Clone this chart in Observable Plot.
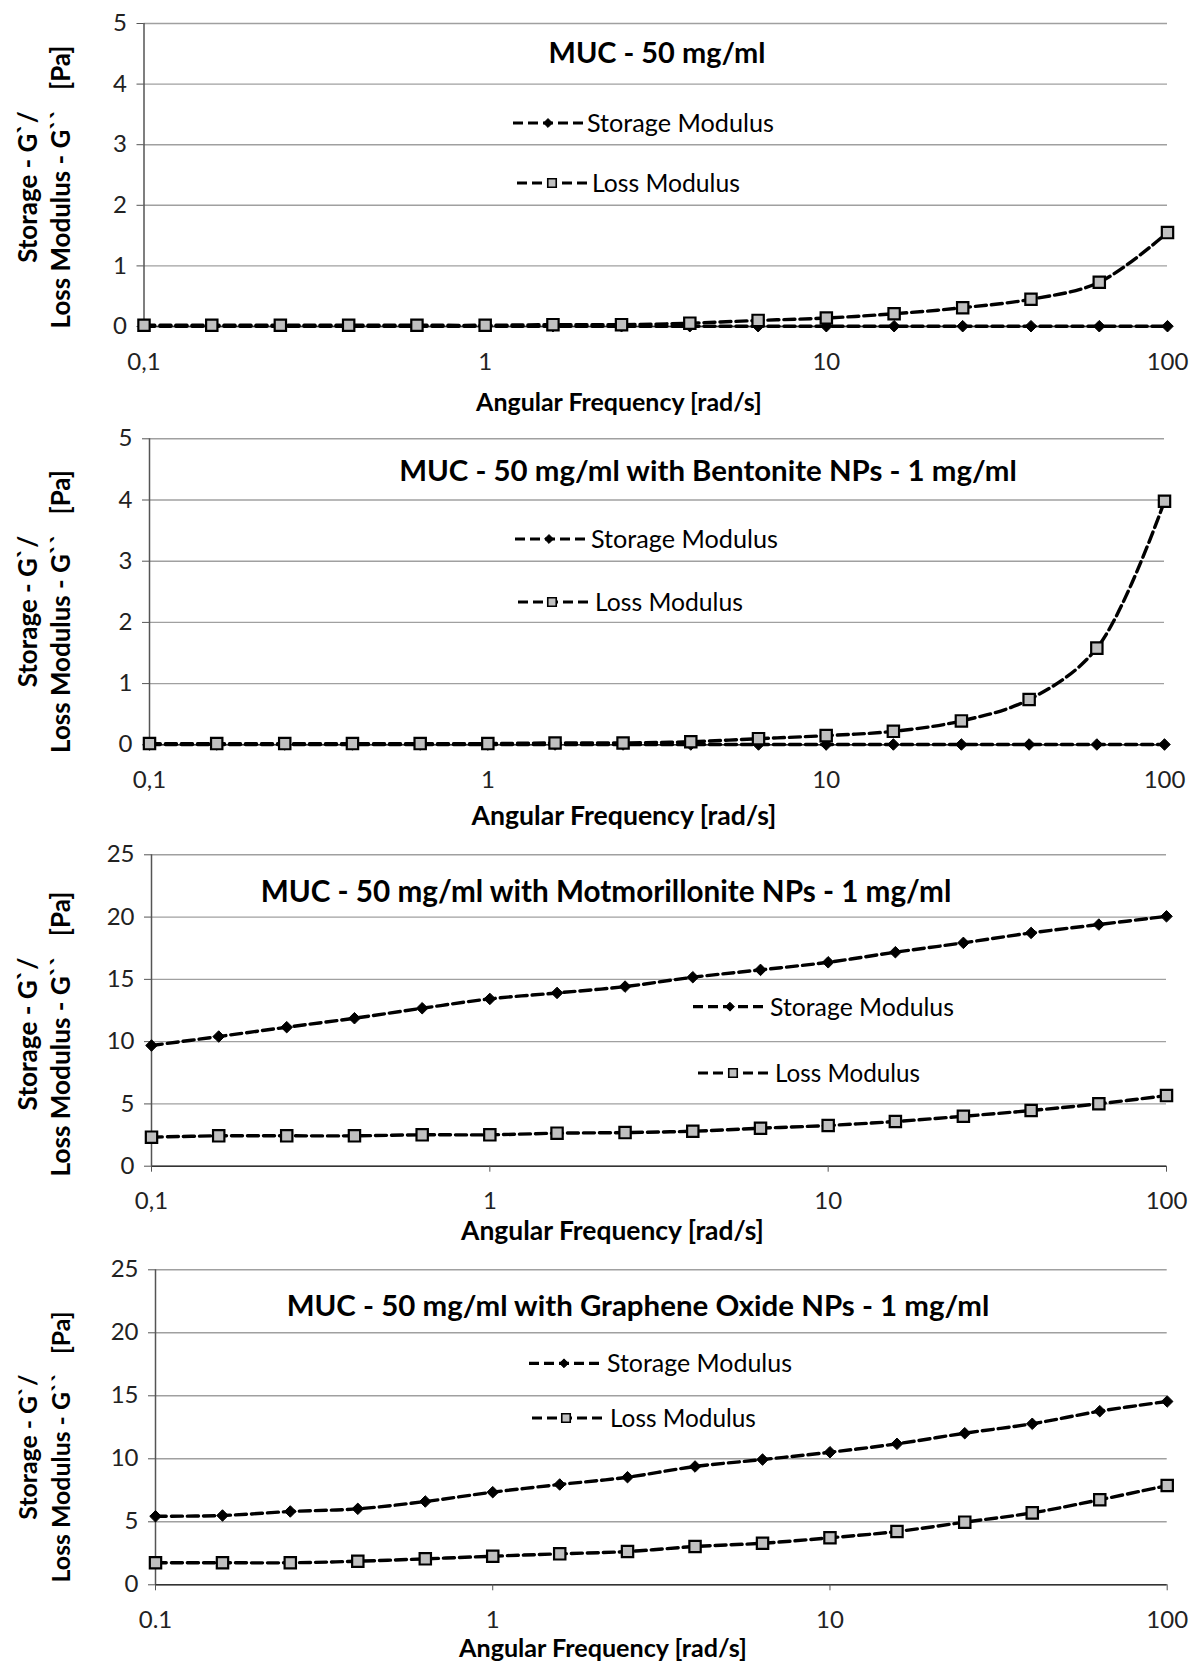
<!DOCTYPE html>
<html>
<head>
<meta charset="utf-8">
<script src="https://cdn.jsdelivr.net/npm/d3@7"></script>
<script src="https://cdn.jsdelivr.net/npm/@observablehq/plot@0.6"></script>
<style>
  html, body { margin: 0; padding: 0; background: #fff; }
  #chart { width: 1190px; }
  #chart svg { display: block; }
</style>
</head>
<body>
<div id="chart"></div>
<script>
// ---------- data ----------
const freq = [0.1, 0.158, 0.251, 0.398, 0.631, 1, 1.58, 2.51, 3.98, 6.31, 10, 15.8, 25.1, 39.8, 63.1, 100];

const mucStorage = [0.005, 0.005, 0.005, 0.005, 0.005, 0.005, 0.005, 0.005, 0.005, 0.005, 0.005, 0.005, 0.005, 0.005, 0.005, 0.005];
const mucLoss    = [0.02, 0.02, 0.02, 0.02, 0.02, 0.02, 0.03, 0.03, 0.055, 0.10, 0.14, 0.21, 0.31, 0.45, 0.73, 1.55];

const bentStorage = [0.005, 0.005, 0.005, 0.005, 0.005, 0.005, 0.005, 0.005, 0.005, 0.005, 0.005, 0.005, 0.005, 0.005, 0.005, 0.005];
const bentLoss    = [0.02, 0.02, 0.02, 0.02, 0.02, 0.02, 0.03, 0.03, 0.05, 0.10, 0.15, 0.22, 0.39, 0.74, 1.58, 3.98];

const montStorage = [9.69, 10.41, 11.16, 11.88, 12.68, 13.43, 13.91, 14.42, 15.17, 15.76, 16.37, 17.18, 17.93, 18.73, 19.40, 20.06];
const montLoss    = [2.33, 2.44, 2.44, 2.44, 2.52, 2.52, 2.65, 2.70, 2.81, 3.05, 3.27, 3.59, 4.01, 4.47, 5.01, 5.67];

const goStorage = [5.44, 5.50, 5.82, 6.03, 6.61, 7.35, 7.96, 8.54, 9.39, 9.94, 10.52, 11.19, 12.03, 12.78, 13.78, 14.55];
const goLoss    = [1.75, 1.75, 1.75, 1.87, 2.06, 2.27, 2.46, 2.64, 3.04, 3.30, 3.73, 4.23, 4.97, 5.71, 6.75, 7.88];

const panelTitles = [
  "MUC - 50 mg/ml",
  "MUC - 50 mg/ml with Bentonite NPs - 1 mg/ml",
  "MUC - 50 mg/ml with Motmorillonite NPs - 1 mg/ml",
  "MUC - 50 mg/ml with Graphene Oxide NPs - 1 mg/ml"
];
const seriesNames = ["Storage Modulus", "Loss Modulus"];
const xTickValues = [0.1, 1, 10, 100];
const xTickLabelsComma = ["0,1", "1", "10", "100"];
const xTickLabelsDot = ["0.1", "1", "10", "100"];
const yTicksSmall = [0, 1, 2, 3, 4, 5];
const yTicksLarge = [0, 5, 10, 15, 20, 25];
const xTitle = "Angular Frequency [rad/s]";
const yTitle1 = "Storage - G`/";
const yTitle2 = "Loss Modulus - G``   [Pa]";

// ---------- layout (pixels) ----------
const FONT = "Lato, 'Open Sans', 'Liberation Sans', sans-serif";
const panels = [
  { storage: mucStorage, loss: mucLoss, title: 0, xLabels: xTickLabelsComma, yTicks: yTicksSmall,
    height: 420, mt: 23, mb: 94, ml: 143.5, mr: 23,
    titlePos: [657, 53, 217], xTitlePos: [619, 402, 286], yTitleCy: 187, yTitleW: 283,
    legS: [513, 583, 548, 123, 587, 187], legL: [517, 587, 552, 183, 592, 148] },
  { storage: bentStorage, loss: bentLoss, title: 1, xLabels: xTickLabelsComma, yTicks: yTicksSmall,
    height: 415, mt: 18.3, mb: 90.7, ml: 149, mr: 26,
    titlePos: [708, 50, 618], xTitlePos: [624, 395, 305], yTitleCy: 191.5, yTitleW: 283,
    legS: [515, 586, 549, 119, 591, 187], legL: [518, 589, 552, 182, 595, 148] },
  { storage: montStorage, loss: montLoss, title: 2, xLabels: xTickLabelsComma, yTicks: yTicksLarge,
    height: 415, mt: 19.3, mb: 84.3, ml: 151, mr: 24,
    titlePos: [606, 56.7, 691], xTitlePos: [612.5, 395, 303], yTitleCy: 199, yTitleW: 285,
    legS: [693, 766, 730, 171.7, 770, 184], legL: [698, 771, 733, 238, 775, 145] },
  { storage: goStorage, loss: goLoss, title: 3, xLabels: xTickLabelsDot, yTicks: yTicksLarge,
    height: 411, mt: 19.3, mb: 76.7, ml: 155, mr: 23.3,
    titlePos: [638, 55, 703], xTitlePos: [603, 398, 288], yTitleCy: 197, yTitleW: 271,
    legS: [529, 603, 564, 113.3, 607, 185], legL: [532, 606, 566, 168, 610, 146] }
];

function fitText(sel, target) {
  const node = sel.node();
  const w = node.getComputedTextLength();
  const fs = parseFloat(sel.style("font-size"));
  if (w > 0) sel.style("font-size", (fs * target / w) + "px");
  return sel;
}

const root = document.getElementById("chart");

function makePanel(p) {
  const storage = freq.map((f, i) => ({ f, v: p.storage[i] }));
  const loss = freq.map((f, i) => ({ f, v: p.loss[i] }));
  const labelOf = new Map(xTickValues.map((v, i) => [v, p.xLabels[i]]));
  const yMax = p.yTicks[p.yTicks.length - 1];

  const svg = Plot.plot({
    width: 1190,
    height: p.height,
    marginTop: p.mt, marginBottom: p.mb, marginLeft: p.ml, marginRight: p.mr,
    style: { fontFamily: FONT, fontSize: "24px", color: "#000", background: "#fff", overflow: "visible" },
    x: { type: "log", domain: [0.1, 100] },
    y: { domain: [0, yMax] },
    marks: [
      Plot.gridY(p.yTicks, { stroke: "#a0a0a0", strokeOpacity: 1, strokeWidth: 1.4 }),
      Plot.ruleX([0.1], { stroke: "#555", strokeWidth: 1.5 }),
      Plot.ruleY([0], { stroke: "#333", strokeWidth: 1.5 }),
      Plot.axisX(xTickValues, { tickSize: 6, tickPadding: 20, tickFormat: d => labelOf.get(d), label: null, stroke: "#555", fill: "#222" }),
      Plot.axisY(p.yTicks, { tickSize: 7, tickPadding: 10, tickFormat: d => String(d), label: null, stroke: "#555", fill: "#222" }),
      Plot.line(loss, { x: "f", y: "v", stroke: "#000", strokeWidth: 3.4, strokeDasharray: "11,5", curve: "catmull-rom" }),
      Plot.line(storage, { x: "f", y: "v", stroke: "#000", strokeWidth: 3.4, strokeDasharray: "11,5", curve: "catmull-rom" }),
      Plot.dot(storage, { x: "f", y: "v", symbol: "diamond2", r: 5.2, fill: "#000", stroke: "#000", strokeWidth: 1 }),
      Plot.dot(loss, { x: "f", y: "v", symbol: "square", r: 6.4, fill: "#c0c0c0", stroke: "#000", strokeWidth: 2.2 })
    ]
  });
  root.appendChild(svg);

  const g = d3.select(svg);
  const txt = (x, y, s, weight, size, anchor = "middle") =>
    g.append("text").attr("x", x).attr("y", y).attr("dy", "0.36em")
      .attr("text-anchor", anchor)
      .style("font-family", FONT).style("font-weight", weight).style("font-size", size + "px")
      .style("white-space", "pre").attr("fill", "#000").text(s);

  // title
  fitText(txt(p.titlePos[0], p.titlePos[1], panelTitles[p.title], "bold", 26), p.titlePos[2]);
  // x axis title
  fitText(txt(p.xTitlePos[0], p.xTitlePos[1], xTitle, "bold", 24), p.xTitlePos[2]);
  // y axis title (two lines)
  const yl2 = g.append("text").attr("transform", `translate(61,${p.yTitleCy}) rotate(-90)`)
    .attr("dy", "0.36em").attr("text-anchor", "middle")
    .style("font-family", FONT).style("font-weight", "bold").style("font-size", "24px")
    .style("white-space", "pre").attr("fill", "#000").text(yTitle2);
  fitText(yl2, p.yTitleW);
  g.append("text").attr("transform", `translate(28,${p.yTitleCy}) rotate(-90)`)
    .attr("dy", "0.36em").attr("text-anchor", "middle")
    .style("font-family", FONT).style("font-weight", "bold").style("font-size", yl2.style("font-size"))
    .style("white-space", "pre").attr("fill", "#000").text(yTitle1);

  // legend
  const legend = (L, name, isStorage) => {
    g.append("line").attr("x1", L[0]).attr("x2", L[1]).attr("y1", L[3]).attr("y2", L[3])
      .attr("stroke", "#000").attr("stroke-width", 3.2).attr("stroke-dasharray", "10,5");
    g.append("path")
      .attr("d", d3.symbol(isStorage ? d3.symbolDiamond2 : d3.symbolSquare, isStorage ? 50 : 72)())
      .attr("transform", `translate(${L[2]},${L[3]})`)
      .attr("fill", isStorage ? "#000" : "#c0c0c0").attr("stroke", "#000").attr("stroke-width", isStorage ? 1 : 1.6);
    fitText(txt(L[4], L[3], name, "normal", 24, "start"), L[5]);
  };
  legend(p.legS, seriesNames[0], true);
  legend(p.legL, seriesNames[1], false);
}

panels.forEach(makePanel);
</script>
</body>
</html>
